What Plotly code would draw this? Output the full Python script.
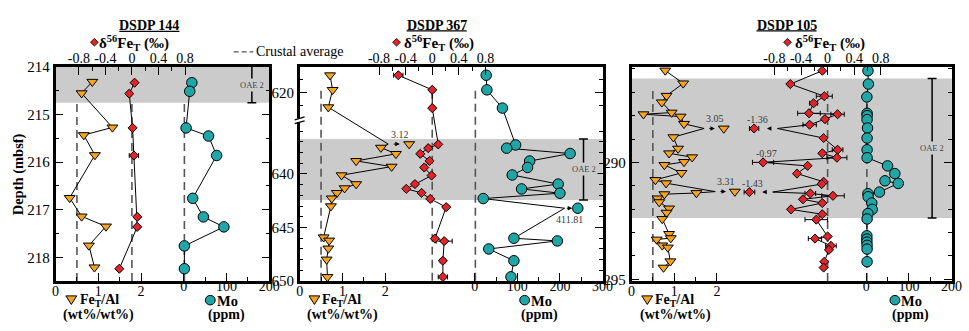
import plotly.graph_objects as go

W, H = 969, 331
FONT = "Liberation Serif"
ORANGE = "#F7A521"
RED = "#E2232A"
TEAL = "#21A6A7"
BAND = "#CBCBCB"
DASH_C = "#555555"
LABEL_C = "#3A3A3A"

# ============================ DATA ============================
# ---- DSDP 144 ----
d144_feal = [214.31, 214.55, 215.27, 215.43, 215.85, 216.75, 217.14, 217.35, 217.75, 218.21]
feal144 = [0.86, 0.61, 1.33, 0.66, 0.92, 0.33, 0.61, 1.18, 0.78, 0.91]
d144_fe = [214.33, 214.56, 215.28, 215.86, 217.15, 217.36, 218.24]
fe144 = [0.04, -0.04, 0.01, 0.03, 0.08, 0.08, -0.19]
fe144_err = [0.03, 0.03, 0.03, 0.07, 0.03, 0.03, 0.03]
d144_mo = [214.33, 214.51, 215.28, 215.45, 215.86, 216.76, 217.15, 217.36, 217.76, 218.24]
mo144 = [19, 14, 5.5, 58, 77, 21, 46, 94, 1.5, 1.5]

# ---- DSDP 367 ----
d367_feal = [618.64, 619.78, 621.13, 637.22, 637.55, 638.13, 638.79, 639.32, 640.12, 640.95,
             641.33, 641.77, 642.28, 643.01, 645.91, 646.21, 646.95, 647.98, 649.61]
feal367 = [0.71, 0.77, 0.67, 3.12, 1.90, 2.25, 1.32, 2.15, 0.98, 1.32,
           1.05, 0.87, 0.75, 0.73, 0.56, 0.69, 0.67, 0.63, 0.65]
d367_fe = [618.64, 619.78, 621.2, 637.25, 637.6, 638.13, 638.79, 639.4, 640.15, 640.95,
           641.39, 641.77, 642.33, 643.1, 646.03, 646.27, 648.1, 649.61]
fe367 = [-0.51, 0.0, 0.0, 0.09, -0.06, -0.18, -0.04, -0.12, -0.01, -0.26,
         -0.39, -0.16, -0.03, 0.21, 0.04, 0.18, 0.16, 0.16]
fe367_err = [0.07, 0.03, 0.03, 0.03, 0.03, 0.03, 0.03, 0.03, 0.03, 0.03,
             0.03, 0.03, 0.03, 0.03, 0.03, 0.12, 0.04, 0.07]
d367_mo = [618.64, 619.78, 621.2, 637.3, 637.6, 638.1, 638.8, 639.4, 640.1, 640.95,
           641.4, 641.8, 642.3, 643.2, 646.0, 646.25, 647.0, 648.1, 649.6]
mo367 = [27, 28.5, 65, 96, 75, 224, 129, 124, 88, 196,
         110, 200, 20, 411.81, 92, 194, 33, 92, 85]

# ---- DSDP 105 ----
d105_feal = [286.07, 286.62, 287.15, 287.43, 287.87, 287.94, 288.04, 288.35, 288.55, 288.92,
             289.41, 289.61, 289.78, 289.98, 290.11, 290.45, 290.75, 290.89, 291.25, 291.31,
             291.36, 291.54, 291.70, 291.97, 292.15, 292.42, 293.06, 293.24, 293.30, 293.55,
             293.64, 294.23, 294.50]
feal105 = [0.79, 1.21, 0.82, 0.71, 0.94, 0.28, 1.15, 1.23, 3.05, 0.98,
           1.09, 0.88, 1.42, 1.23, 0.77, 1.17, 0.56, 0.81, 3.31, 1.52,
           0.77, 0.61, 0.65, 0.88, 0.82, 0.72, 0.88, 0.92, 0.59, 0.72,
           0.85, 0.91, 0.75]
d105_fe = [286.08, 286.65, 287.17, 287.47, 287.90, 287.94, 288.15, 288.39, 288.55, 288.96,
           289.46, 289.61, 289.80, 290.00, 290.15, 290.48, 290.83, 290.93, 291.27, 291.33,
           291.43, 291.58, 291.74, 292.01, 292.22, 292.45, 293.17, 293.26, 293.57, 293.74,
           294.25, 294.50]
fe105 = [-0.08, -0.56, -0.05, -0.21, -0.28, 0.15, -0.04, -0.27, -1.36, -0.06,
         0.15, -0.08, 0.14, -0.97, -0.30, -0.46, -0.06, -0.09, -1.43, -0.26,
         0.08, -0.37, -0.08, -0.55, -0.08, -0.17, 0.00, -0.19, 0.05, 0.02,
         -0.05, -0.06]
fe105_err = [0.03, 0.03, 0.12, 0.06, 0.17, 0.10, 0.03, 0.10, 0.07, 0.03,
             0.08, 0.03, 0.15, 0.16, 0.03, 0.03, 0.03, 0.03, 0.08, 0.08,
             0.17, 0.03, 0.03, 0.03, 0.03, 0.17, 0.03, 0.10, 0.08, 0.03,
             0.03, 0.03]
d105_mo = [286.08, 286.65, 287.20, 287.90, 288.00, 288.17, 288.53, 288.96, 289.46, 289.80,
           290.15, 290.48, 290.79, 290.90, 291.27, 291.34, 291.47, 291.74, 292.01, 292.19,
           292.42, 293.14, 293.28, 293.41, 293.55, 293.71, 294.25]
mo105 = [4, 5, 1.5, 2, 2, 2, 3, 2, 2, 2,
         50, 67, 44, 75, 31, 4, 4.5, 13, 14, 4,
         2, 1.5, 1.5, 1.5, 2, 2, 2]

# crustal averages
CRUST_FEAL = 0.5
CRUST_FE = 0.0
CRUST_MO = 1.5

# OAE 2 intervals (mbsf)
OAE_144 = (214.0, 214.75)
OAE_367 = (636.75, 642.43)
OAE_105 = (286.41, 292.38)

# tick labels
FEAL_TICKS = [0, 1, 2]
FEAL_MINOR = [0.5, 1.5]
FE_TICKS = [-0.8, -0.4, 0, 0.4, 0.8]
FE_MINOR = [-0.6, -0.2, 0.2, 0.6]
Y144_TICKS = [214, 215, 216, 217, 218]
Y144_MINOR = [214.5, 215.5, 216.5, 217.5]
Y367_TICKS = [620, 640, 645, 650]
Y367_MINOR = [619, 621, 636, 637, 638, 639, 641, 642, 643, 644, 646, 647, 648, 649]
Y105_TICKS = [290, 295]
Y105_MINOR = [286, 287, 288, 289, 291, 292, 293, 294]

# off-scale (broken-axis) display settings
OFF_FEAL_367 = dict(limit=3.0, shift=0.56, gap=0.49, tail=0.19, head=0.45, xs=-9, ys=10)
OFF_FEAL_105 = dict(limit=3.0, shift=0.89, gap=0.46, tail=0.19, head=0.45, xs=-9, ys=10)
OFF_FE_105 = dict(limit=-1.0, shift=-0.255, gap=-0.35, tail=0.25, head=0.55, xs=3, ys=9)
OFF_MO_367 = dict(limit=300, shift=169.8, gap=31, tail=0.05, head=0.42, xs=-8, ys=-11)

# ============================ HELPERS ============================
def P(x):
    return x / W


def Q(y):
    return 1 - y / H


PLOT_TOP, PLOT_BOT = 62, 287
YDOM = [Q(PLOT_BOT), Q(PLOT_TOP)]

# DSDP 367 broken depth axis
BRK_UP = (618.0, 622.15)
BRK_LO = (635.0, 650.0)
BRK_PX = 118
S_UP = (BRK_PX - PLOT_TOP) / (BRK_UP[1] - BRK_UP[0])
S_LO = (PLOT_BOT - BRK_PX) / (BRK_LO[1] - BRK_LO[0])


def t367(d):
    return d if d >= BRK_LO[0] else BRK_LO[0] - (BRK_UP[1] - d) * S_UP / S_LO


def ident(d):
    return d


fig = go.Figure()
shapes, annots = [], []
TICKFONT = dict(family=FONT, size=14, color="black")


def minor(vals):
    return dict(tickmode="array", tickvals=vals, ticks="inside", ticklen=4,
                tickwidth=1.3, tickcolor="black", showgrid=False)


def setup_panel(i, x0, x1, feal_rng, mo_rng, fe_rng, mo_major, mo_minor,
                y_rng, y_vals, y_text, y_minor):
    k = 3 * i + 1
    xf = "x" if k == 1 else f"x{k}"
    xm, xd = f"x{k+1}", f"x{k+2}"
    yid = "y" if i == 0 else f"y{i+1}"
    common = dict(ticks="inside", ticklen=8, tickwidth=1.3, tickcolor="black",
                  showgrid=False, zeroline=False, tickfont=TICKFONT, tickmode="array")
    lay = {}
    lay["xaxis" if k == 1 else f"xaxis{k}"] = dict(
        domain=[P(x0), P(x1)], anchor=yid, range=list(feal_rng),
        tickvals=FEAL_TICKS, ticktext=[str(v) for v in FEAL_TICKS], minor=minor(FEAL_MINOR),
        showline=True, linewidth=2.5, linecolor="black", mirror=True, side="bottom",
        ticklabelstandoff=-5, **common)
    lay[f"xaxis{k+1}"] = dict(
        overlaying=xf, anchor=yid, range=list(mo_rng), side="bottom",
        tickvals=mo_major, ticktext=[str(v) for v in mo_major], minor=minor(mo_minor),
        showline=False, ticklabelstandoff=-5, **common)
    lay[f"xaxis{k+2}"] = dict(
        overlaying=xf, anchor=yid, range=list(fe_rng), side="top",
        tickvals=FE_TICKS, ticktext=[f"{v:g}" for v in FE_TICKS], minor=minor(FE_MINOR),
        showline=False, **common)
    ycommon = dict(common)
    ycommon["tickfont"] = dict(family=FONT, size=15, color="black")
    lay["yaxis" if i == 0 else f"yaxis{i+1}"] = dict(
        domain=YDOM, anchor=xf, range=list(y_rng), tickvals=y_vals, ticktext=y_text,
        minor=minor(y_minor), showline=True, linewidth=2.5, linecolor="black",
        mirror="ticks", **ycommon)
    fig.update_layout(**lay)
    return xf, xm, xd, yid


def offscale(vals, cfg):
    line, mark, flag = [], [], []
    for v in vals:
        if cfg and (v - cfg["limit"]) * (1 if cfg["shift"] > 0 else -1) > 0:
            m = v - cfg["shift"]
            line.append(m - cfg["gap"])
            mark.append(m)
            flag.append(True)
        else:
            line.append(v)
            mark.append(v)
            flag.append(False)
    return line, mark, flag


def series(xid, yid, depth, vals, tf, color, symbol, size, err=None, cfg=None, label_if=None):
    ys = [tf(d) for d in depth]
    line_x, mark_x, flag = offscale(vals, cfg)
    fig.add_trace(go.Scatter(x=line_x, y=ys, xaxis=xid, yaxis=yid, mode="lines",
                             line=dict(color="black", width=1), hoverinfo="skip",
                             showlegend=False))
    kw = {}
    if err is not None:
        kw["error_x"] = dict(type="data", array=err, symmetric=True, color="black",
                             thickness=1, width=2.5, visible=True)
    fig.add_trace(go.Scatter(x=mark_x, y=ys, xaxis=xid, yaxis=yid, mode="markers",
                             marker=dict(symbol=symbol, size=size, color=color,
                                         line=dict(color="black", width=1)),
                             showlegend=False, customdata=vals,
                             hovertemplate="%{customdata}<extra></extra>", **kw))
    for v, y, lx, mx, f in zip(vals, ys, line_x, mark_x, flag):
        if f:
            annots.append(dict(x=mx - cfg["head"] * cfg["gap"], y=y,
                               ax=lx + cfg["tail"] * cfg["gap"], ay=y,
                               xref=xid, yref=yid, axref=xid, ayref=yid, text="",
                               showarrow=True, arrowhead=2, arrowsize=0.9, arrowwidth=1,
                               arrowcolor="black"))
        if f or (label_if and label_if(v)):
            xs, ysh = (cfg["xs"], cfg["ys"]) if cfg else (0, 9)
            annots.append(dict(x=mx, y=y, xref=xid, yref=yid, text=f"{v:g}",
                               showarrow=False, xshift=xs, yshift=ysh, xanchor="center",
                               font=dict(family=FONT, size=10, color=LABEL_C)))


def crustal(xf, xm, xd, yid, y0, y1):
    for xr, v in ((xf, CRUST_FEAL), (xd, CRUST_FE), (xm, CRUST_MO)):
        shapes.append(dict(type="line", xref=xr, yref=yid, x0=v, x1=v, y0=y0, y1=y1,
                           line=dict(color=DASH_C, width=1.6, dash="8px,5px"), layer="below"))


def band(xf, yid, y0, y1):
    shapes.append(dict(type="rect", xref=f"{xf} domain", yref=yid, x0=0, x1=1, y0=y0, y1=y1,
                       fillcolor=BAND, line=dict(width=0), layer="below"))


def bracket(px, yid, y0, y1, ylab, top_cap=True):
    shapes.append(dict(type="line", xref="paper", yref=yid, x0=P(px), x1=P(px), y0=y0, y1=y1,
                       line=dict(color="black", width=1.5)))
    caps = [y1] + ([y0] if top_cap else [])
    for yc in caps:
        shapes.append(dict(type="line", xref="paper", yref=yid, x0=P(px - 4.5), x1=P(px + 4.5),
                           y0=yc, y1=yc, line=dict(color="black", width=1.5)))
    annots.append(dict(x=P(px), y=ylab, xref="paper", yref=yid, text="OAE 2", showarrow=False,
                       xanchor="center", yanchor="middle", bgcolor=BAND, borderpad=1,
                       font=dict(family=FONT, size=8.5, color="#444444")))


# ============================ PANELS ============================
# DSDP 144
xf, xm, xd, yid = setup_panel(0, 52.3, 269.3, (0, 5.0), (-300, 200.5), (-1.15, 2.07),
                              [0, 100, 200], [50, 150], (218.5, 214.0),
                              Y144_TICKS, [str(v) for v in Y144_TICKS], Y144_MINOR)
band(xf, yid, *OAE_144)
crustal(xf, xm, xd, yid, 214.78, 218.5)
bracket(251.5, yid, OAE_144[0], OAE_144[1], 214.38, top_cap=False)
series(xf, yid, d144_feal, feal144, ident, ORANGE, "triangle-down", 9.5)
series(xd, yid, d144_fe, fe144, ident, RED, "diamond", 7, err=fe144_err)
series(xm, yid, d144_mo, mo144, ident, TEAL, "circle", 10.5)

# DSDP 367
xf, xm, xd, yid = setup_panel(1, 300, 607.5, (0, 7.085), (-411, 300.5), (-1.993, 2.563),
                              [0, 100, 200, 300], [50, 150, 250],
                              (BRK_LO[1], t367(BRK_UP[0])),
                              [t367(v) for v in Y367_TICKS], [str(v) for v in Y367_TICKS],
                              [t367(v) for v in Y367_MINOR])
band(xf, yid, OAE_367[0], OAE_367[1])
crustal(xf, xm, xd, yid, t367(619.85), BRK_LO[1])
bracket(588, yid, OAE_367[0], OAE_367[1], 639.5)
series(xf, yid, d367_feal, feal367, t367, ORANGE, "triangle-down", 9.5, cfg=OFF_FEAL_367)
series(xd, yid, d367_fe, fe367, t367, RED, "diamond", 7, err=fe367_err)
series(xm, yid, d367_mo, mo367, t367, TEAL, "circle", 10.5, cfg=OFF_MO_367)

# DSDP 105
xf, xm, xd, yid = setup_panel(2, 636.7, 961.7, (0, 7.5), (-550, 200.5), (-2.948, 1.867),
                              [0, 100, 200], [50, 150], (295.08, 285.92),
                              Y105_TICKS, [str(v) for v in Y105_TICKS], Y105_MINOR)
band(xf, yid, *OAE_105)
crustal(xf, xm, xd, yid, 286.95, 295.08)
bracket(941.7, yid, OAE_105[0], OAE_105[1], 289.38)
series(xf, yid, d105_feal, feal105, ident, ORANGE, "triangle-down", 9.5, cfg=OFF_FEAL_105)
series(xd, yid, d105_fe, fe105, ident, RED, "diamond", 7, err=fe105_err, cfg=OFF_FE_105,
       label_if=lambda v: v < -0.9)
series(xm, yid, d105_mo, mo105, ident, TEAL, "circle", 10.5)

# ============================ DECORATION ============================
def text(x, y, s, size=15, anchor="center", bold=True, angle=0, color="black"):
    annots.append(dict(x=P(x), y=Q(y), xref="paper", yref="paper",
                       text=f"<b>{s}</b>" if bold else s, showarrow=False,
                       xanchor=anchor, yanchor="middle", textangle=angle, align="center",
                       borderpad=0, font=dict(family=FONT, size=size, color=color)))


def tri(cx, cy):
    shapes.append(dict(type="path", xref="paper", yref="paper",
                       path=f"M {P(cx-5.5)},{Q(cy-4)} L {P(cx+5.5)},{Q(cy-4)} L {P(cx)},{Q(cy+5)} Z",
                       fillcolor=ORANGE, line=dict(color="black", width=1)))


def circ(cx, cy):
    shapes.append(dict(type="circle", xref="paper", yref="paper",
                       x0=P(cx - 5), x1=P(cx + 5), y0=Q(cy + 5), y1=Q(cy - 5),
                       fillcolor=TEAL, line=dict(color="black", width=1)))


def dia(cx, cy):
    shapes.append(dict(type="path", xref="paper", yref="paper",
                       path=(f"M {P(cx-4)},{Q(cy)} L {P(cx)},{Q(cy-4)} L {P(cx+4)},{Q(cy)} "
                             f"L {P(cx)},{Q(cy+4)} Z"),
                       fillcolor=RED, line=dict(color="black", width=0.8)))


for cx, cy, s in [(147.5, 18.5, "DSDP 144"), (439, 18, "DSDP 367"), (794, 18, "DSDP 105")]:
    text(cx, cy, s, size=14)
    shapes.append(dict(type="line", xref="paper", yref="paper", x0=P(cx - 30.5), x1=P(cx + 30.5),
                       y0=Q(cy + 6), y1=Q(cy + 6), line=dict(color="black", width=1.2)))

for dx, tx in [(91.7, 95.5), (398.3, 404.5), (795, 801.5)]:
    dia(dx, 36)
    text(tx, 37, "δ<sup>56</sup>Fe<sub>T</sub> (‰)", anchor="left")

for tx, t1, c1, mx, m1, c2 in [(68.3, 76, 96, 209.3, 215.5, 226),
                               (315, 321.5, 343, 528.3, 534, 543),
                               (652.7, 660, 681, 904, 909.5, 919.5)]:
    tri(tx, 306.5)
    text(t1, 307.5, "Fe<sub>T</sub>/Al", size=14, anchor="left")
    text(c1, 323, "(wt%/wt%)", size=14)
    circ(mx, 307)
    text(m1, 307.5, "Mo", size=14.5, anchor="left")
    text(c2, 323, "(ppm)", size=14)

text(15, 175, "Depth (mbsf)", size=14.5, angle=-90)

# crustal average key
shapes.append(dict(type="line", xref="paper", yref="paper", x0=P(233), x1=P(253), y0=Q(46), y1=Q(46),
                   line=dict(color=DASH_C, width=1.3, dash="5px,3px")))
text(255, 46, "Crustal average", size=14, anchor="left", bold=False)

# axis-break marks on DSDP 367 depth axis
shapes.append(dict(type="rect", xref="paper", yref="paper", x0=P(296), x1=P(304), y0=Q(120), y1=Q(116),
                   fillcolor="white", line=dict(width=0)))
for off in (-2, 2):
    shapes.append(dict(type="line", xref="paper", yref="paper", x0=P(295), x1=P(305),
                       y0=Q(BRK_PX + off + 1.5), y1=Q(BRK_PX + off - 1.5),
                       line=dict(color="black", width=1.3)))

fig.update_layout(
    width=W, height=H, autosize=False,
    margin=dict(l=0, r=0, t=0, b=0),
    paper_bgcolor="white", plot_bgcolor="white",
    showlegend=False,
    font=dict(family=FONT, color="black"),
    shapes=shapes, annotations=annots,
)

fig.write_html("out.html")
